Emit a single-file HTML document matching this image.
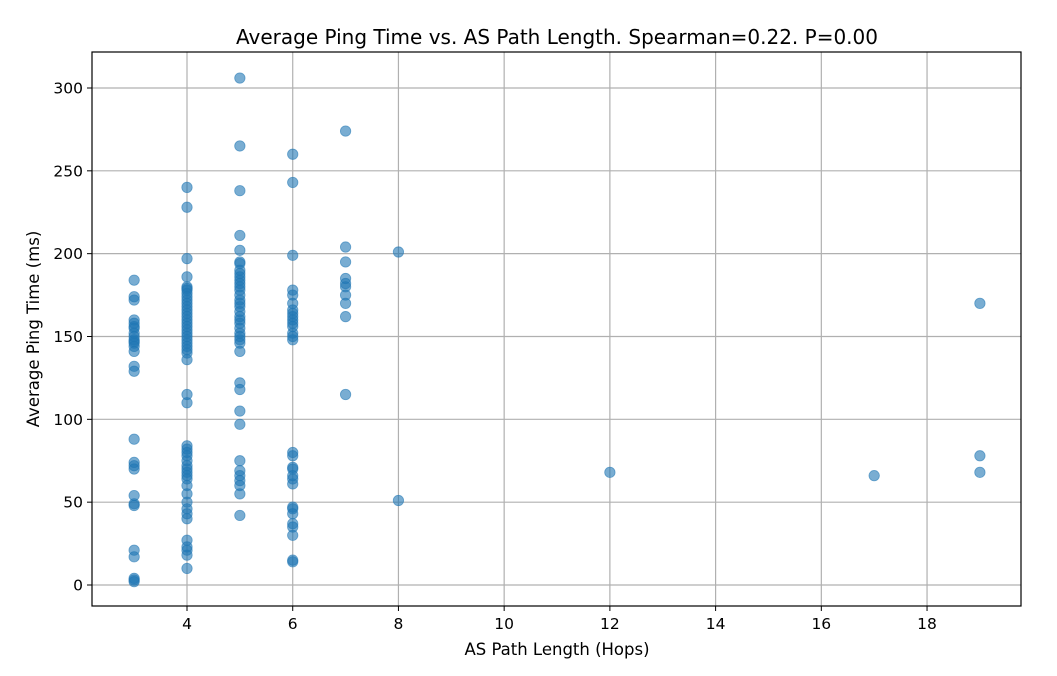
<!DOCTYPE html>
<html><head><style>
body{margin:0;background:#fff;}
svg text{font-family:"DejaVu Sans","Liberation Sans",sans-serif;fill:#000;}
</style></head><body>
<svg id="s" width="1057" height="671" xmlns="http://www.w3.org/2000/svg">
<rect width="1057" height="671" fill="#fff"/>
<g id="grid"></g><g id="pts"></g>
<rect x="92" y="52" width="929" height="554" fill="none" stroke="#000" stroke-width="1.2"/>
<g id="ticks"></g>
<text x="557" y="44" font-size="20" text-anchor="middle">Average Ping Time vs. AS Path Length. Spearman=0.22. P=0.00</text>
<text x="557" y="655" font-size="16.5" text-anchor="middle">AS Path Length (Hops)</text>
<text transform="translate(39,329) rotate(-90)" font-size="16.5" text-anchor="middle">Average Ping Time (ms)</text>
</svg>
<script>
var X=function(v){return 187+(v-4)*52.86;}, Y=function(v){return 585-v*1.6567;};
var ns="http://www.w3.org/2000/svg";
function el(p,t,a){var e=document.createElementNS(ns,t);for(var k in a)e.setAttribute(k,a[k]);document.getElementById(p).appendChild(e);return e;}
for(var x=4;x<=18;x+=2){el("grid","line",{x1:X(x),x2:X(x),y1:52,y2:606,stroke:"#b0b0b0","stroke-width":1.2});
el("ticks","line",{x1:X(x),x2:X(x),y1:606,y2:611,stroke:"#000"});
var t=el("ticks","text",{x:X(x),y:629,"font-size":15.5,"text-anchor":"middle"});t.textContent=x;}
for(var y=0;y<=300;y+=50){el("grid","line",{x1:92,x2:1021,y1:Y(y),y2:Y(y),stroke:"#b0b0b0","stroke-width":1.2});
el("ticks","line",{x1:87,x2:92,y1:Y(y),y2:Y(y),stroke:"#000"});
var t=el("ticks","text",{x:83,y:Y(y)+5.5,"font-size":15.5,"text-anchor":"end"});t.textContent=y;}
var d={3:[184,174,172,160,158,156,155,152,150,148,147,146,144,141,132,129,88,74,72,70,54,49,48,21,17,4,3,2],
4:[240,228,197,186,180,179,178,176,174,172,170,168,166,164,162,160,158,156,154,152,150,148,146,144,142,140,136,115,110,84,82,80,78,75,72,70,68,66,64,60,55,50,46,43,40,27,23,21,18,10],
5:[306,265,238,211,202,195,194,190,188,186,184,182,180,178,175,172,170,168,165,162,160,158,155,152,150,148,146,141,122,118,105,97,75,69,66,63,60,55,42],
6:[260,243,199,178,175,170,166,164,162,160,158,156,152,150,148,80,78,71,70,66,64,61,47,46,43,37,35,30,15,14],
7:[274,204,195,185,182,180,175,170,162,115],8:[201,51],12:[68],17:[66],19:[170,78,68]};
for(var k in d)d[k].forEach(function(v){el("pts","circle",{cx:X(+k),cy:Y(v),r:5.2,fill:"#1f77b4","fill-opacity":0.6,stroke:"#1f77b4","stroke-opacity":0.6,"stroke-width":0.8});});
</script>
</body></html>
